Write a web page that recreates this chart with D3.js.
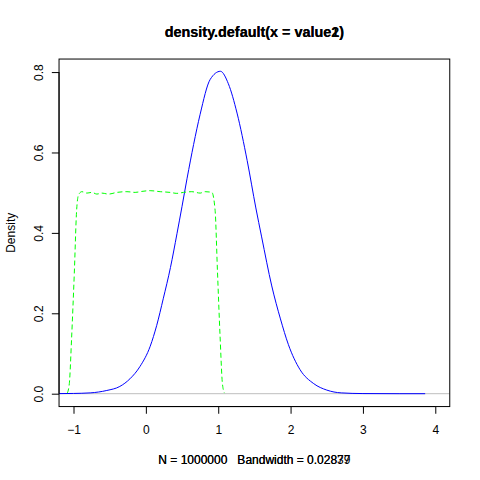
<!DOCTYPE html>
<html><head><meta charset="utf-8">
<script src="https://cdn.jsdelivr.net/npm/d3@7"></script>
<style>body{margin:0;background:#fff}svg{display:block}text{font-family:"Liberation Sans",Arial,sans-serif;white-space:pre}</style>
</head><body><svg id="c" width="480" height="480"></svg>
<script>
// Data
const titles = ["density.default(x = value1)", "density.default(x = value2)"];
const subs = ["N = 1000000   Bandwidth = 0.02839", "N = 1000000   Bandwidth = 0.02877"];
const yLabel = "Density";
const xTicks = [-1, 0, 1, 2, 3, 4];
const yTicks = [0, 0.2, 0.4, 0.6, 0.8];
const yTickLabels = ["0.0", "0.2", "0.4", "0.6", "0.8"];
const xLim = [-1, 4];
const yLim = [0, 0.8004];

// blue series (normal-like)
const blueX = [-1.45, -1.2, -1.0, -0.77, -0.54, -0.36, -0.22, -0.08, 0.06, 0.15, 0.24, 0.34, 0.43, 0.5, 0.57, 0.66, 0.75, 0.89, 1.03, 1.14, 1.26, 1.40, 1.52, 1.60, 1.74, 1.86, 1.97, 2.13, 2.32, 2.50, 2.70, 3.0, 3.5, 3.86];
const blueY = [0, 0.0002, 0.0006, 0.002, 0.008, 0.018, 0.037, 0.068, 0.118, 0.170, 0.236, 0.314, 0.398, 0.466, 0.536, 0.620, 0.695, 0.782, 0.802, 0.771, 0.698, 0.580, 0.462, 0.390, 0.268, 0.186, 0.122, 0.060, 0.025, 0.009, 0.002, 0.0003, 0, 0];

// green series (uniform-like, dashed)
const greenX = [-1.086, -1.058, -1.026, -0.989, -0.957, -0.93, -0.884, -0.815, -0.746, -0.677, -0.608, -0.517, -0.401, -0.262, -0.148, -0.055, 0.059, 0.198, 0.336, 0.428, 0.519, 0.635, 0.750, 0.819, 0.912, 0.957, 0.989, 1.026, 1.058, 1.086];
const greenY = [0.0015, 0.025, 0.14, 0.30, 0.456, 0.495, 0.5025, 0.499, 0.5007, 0.4965, 0.499, 0.4965, 0.5007, 0.5025, 0.5007, 0.5032, 0.505, 0.5025, 0.5007, 0.4983, 0.5007, 0.5025, 0.499, 0.5025, 0.5007, 0.456, 0.307, 0.141, 0.025, 0.0015];

const svg = d3.select("#c");
const L = 59.04, R = 449.76, T = 59.04, B = 406.56;
const dx = (xLim[1] - xLim[0]) * 0.04, dy = (yLim[1] - yLim[0]) * 0.04;
const x = d3.scaleLinear().domain([xLim[0] - dx, xLim[1] + dx]).range([L, R]);
const y = d3.scaleLinear().domain([yLim[0] - dy, yLim[1] + dy]).range([B, T]);

svg.append("defs").append("clipPath").attr("id", "clip")
  .append("rect").attr("x", L).attr("y", T).attr("width", R - L).attr("height", B - T);

const g = svg.append("g").attr("clip-path", "url(#clip)");
// zero line
g.append("line").attr("x1", L).attr("x2", R).attr("y1", y(0)).attr("y2", y(0))
  .attr("stroke", "#bebebe").attr("stroke-width", 1);

const line = d3.line().x(d => x(d[0])).y(d => y(d[1])).curve(d3.curveMonotoneX);
g.append("path").datum(blueX.map((v, i) => [v, blueY[i]])).attr("d", line)
  .attr("fill", "none").attr("stroke", "#0000ff").attr("stroke-width", 1);
g.append("path").datum(greenX.map((v, i) => [v, greenY[i]])).attr("d", line)
  .attr("fill", "none").attr("stroke", "#00ff00").attr("stroke-width", 1)
  .attr("stroke-dasharray", "5,3");

// box
svg.append("rect").attr("x", L).attr("y", T).attr("width", R - L).attr("height", B - T)
  .attr("fill", "none").attr("stroke", "#000").attr("stroke-width", 1);

// x axis
const xa = svg.append("g").attr("transform", `translate(0,${B})`)
  .call(d3.axisBottom(x).tickValues(xTicks).tickSize(7.2).tickPadding(12).tickSizeOuter(0).tickFormat(d3.format("d")));
xa.select(".domain").attr("d", `M${x(xTicks[0])},0H${x(xTicks[xTicks.length-1])}`).attr("stroke", "#000");
xa.selectAll("text").attr("font-size", 12).attr("fill", "#000")
  .attr("font-family", '"Liberation Sans",Arial,sans-serif');

// y axis
const ya = svg.append("g").attr("transform", `translate(${L},0)`)
  .call(d3.axisLeft(y).tickValues(yTicks).tickSize(7.2).tickSizeOuter(0).tickFormat((d, i) => yTickLabels[i]));
ya.select(".domain").attr("d", `M0,${y(yTicks[0])}V${y(yTicks[yTicks.length-1])}`).attr("stroke", "#000");
ya.selectAll(".tick text").attr("font-size", 12).attr("fill", "#000")
  .attr("font-family", '"Liberation Sans",Arial,sans-serif')
  .attr("x", null).attr("dy", null)
  .attr("transform", "translate(-16.5,0) rotate(-90)")
  .attr("text-anchor", "middle");

// titles (two overlaid plots)
const cx = (L + R) / 2;
titles.forEach(t => svg.append("text").attr("x", cx).attr("y", 37).attr("text-anchor", "middle")
  .attr("font-size", 14.4).attr("font-weight", "bold").text(t));
subs.forEach(t => svg.append("text").attr("x", cx).attr("y", 463.5).attr("text-anchor", "middle")
  .attr("xml:space", "preserve").attr("font-size", 12).text(t));
svg.append("text").attr("transform", `translate(15,${(T + B) / 2}) rotate(-90)`)
  .attr("text-anchor", "middle").attr("font-size", 12).text(yLabel);
</script></body></html>
